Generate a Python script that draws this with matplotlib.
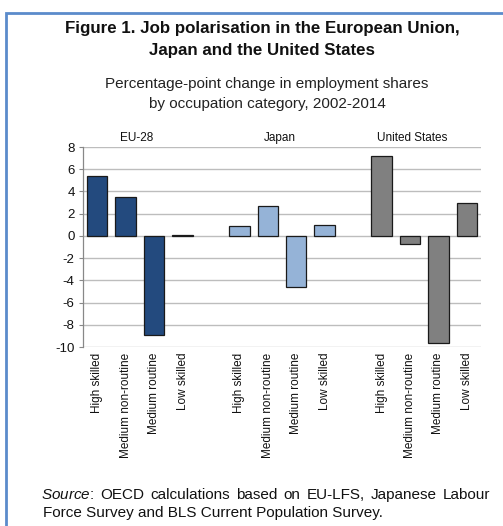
import matplotlib
matplotlib.use("Agg")
import matplotlib.pyplot as plt
from matplotlib.patches import Rectangle
import numpy as np

plt.rcParams["font.family"] = ["Liberation Sans", "DejaVu Sans"]
plt.rcParams["mathtext.fontset"] = "custom"
plt.rcParams["mathtext.it"] = "Liberation Sans:italic"
plt.rcParams["mathtext.rm"] = "Liberation Sans"

# ── data ──────────────────────────────────────────────────────────────────────
CATEGORIES = ["High skilled", "Medium non-routine", "Medium routine", "Low skilled"]
REGIONS    = ["EU-28", "Japan", "United States"]
EU_VALUES  = [5.4, 3.5, -8.9, 0.1]
JP_VALUES  = [0.9, 2.7, -4.6, 1.0]
US_VALUES  = [7.2, -0.7, -9.6, 3.0]
COLORS     = ["#234a7e", "#95b3d7", "#808080"]
Y_TICKS    = list(range(-10, 9, 2))

W, H = 503, 526
fig = plt.figure(figsize=(W / 100, H / 100), dpi=100, facecolor="white")

# blue frame (runs off the right and bottom edges)
fig.patches.append(Rectangle((6 / W, -0.05), 1.2, 1 - 13 / H + 0.05,
                             transform=fig.transFigure, fill=False,
                             edgecolor="#5b8bcb", linewidth=2.0))

fig.text(262 / W, 1 - 28 / H, "Figure 1. Job polarisation in the European Union,",
         ha="center", va="center", fontsize=12.2, fontweight="bold", color="#111")
fig.text(262 / W, 1 - 50 / H, "Japan and the United States",
         ha="center", va="center", fontsize=12.2, fontweight="bold", color="#111")
fig.text(267 / W, 1 - 84 / H, "Percentage-point change in employment shares",
         ha="center", va="center", fontsize=11, color="#222")
fig.text(267 / W, 1 - 104 / H, "by occupation category, 2002-2014",
         ha="center", va="center", fontsize=11, color="#222")

# ── chart ─────────────────────────────────────────────────────────────────────
x0, x1, ytop, ybot = 83, 481, 147, 347
ax = fig.add_axes([x0 / W, 1 - ybot / H, (x1 - x0) / W, (ybot - ytop) / H])

groups = [EU_VALUES, JP_VALUES, US_VALUES]
labels, positions = [], []
for g, (vals, col) in enumerate(zip(groups, COLORS)):
    xs = np.arange(len(vals)) + g * (len(CATEGORIES) + 1)
    ax.bar(xs, vals, width=0.72, color=col, edgecolor="#1a1a1a", linewidth=0.9, zorder=3)
    positions.extend(xs)
    labels.extend(CATEGORIES)

ax.set_xlim(-0.5, 13.5)
ax.set_ylim(-10, 8)
ax.set_yticks(Y_TICKS)
ax.set_yticklabels([str(t) for t in Y_TICKS], fontsize=9.5, color="#111")
ax.tick_params(axis="y", length=3, width=0.8, color="#888", pad=3)
ax.set_xticks(positions)
ax.set_xticklabels(labels, rotation=90, fontsize=8.5, color="#111")
ax.tick_params(axis="x", length=0, pad=4)

for t in Y_TICKS:
    ax.axhline(t, color="#bdbdbd", linewidth=1.0, zorder=1)
for s in ["top", "right", "bottom"]:
    ax.spines[s].set_visible(False)
ax.spines["left"].set_color("#888")
ax.spines["left"].set_linewidth(0.9)

for name, xpos in zip(REGIONS, [1.4, 6.43, 11.08]):
    ax.text(xpos, 8.3, name, ha="center", va="bottom", fontsize=8.5, color="#111")

# ── source note (first line justified) ────────────────────────────────────────
left, right = 43 / W, 492 / W
line1 = [r"$\mathit{Source}$:", "OECD", "calculations", "based", "on",
         "EU-LFS,", "Japanese", "Labour"]
y1 = 1 - 495 / H
words = [fig.text(0, y1, w, fontsize=11, va="center", color="#111") for w in line1]
fig.canvas.draw()
r = fig.canvas.get_renderer()
widths = [t.get_window_extent(r).width / W for t in words]
gap = (right - left - sum(widths)) / (len(words) - 1)
x = left - 2 / W   # mathtext adds a little lead-in
for t, w in zip(words, widths):
    t.set_x(x)
    x += w + gap
fig.text(left, 1 - 513 / H, "Force Survey and BLS Current Population Survey.",
         fontsize=11, va="center", color="#111")

fig.savefig("out.png", dpi=100, facecolor="white")
